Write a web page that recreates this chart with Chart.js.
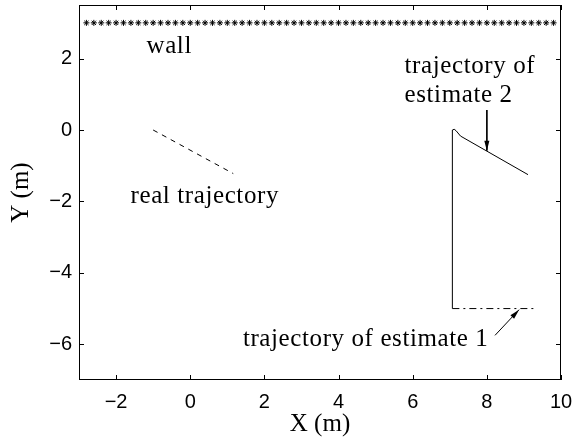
<!DOCTYPE html>
<html>
<head>
<meta charset="utf-8">
<script src="https://cdn.jsdelivr.net/npm/chart.js@4.4.1/dist/chart.umd.min.js"></script>
<style>
  html, body { margin: 0; padding: 0; background: #fff; }
  #wrap { width: 574px; height: 442px; }
</style>
</head>
<body>
<div id="wrap"><canvas id="trajChart" width="574" height="442"></canvas></div>
<script>
// axis ticks
const xTicks = [-2, 0, 2, 4, 6, 8, 10];
const yTicks = [-6, -4, -2, 0, 2];

// wall (asterisks at y = 3)
const wallX = [-2.8, -2.6, -2.4, -2.2, -2.0, -1.8, -1.6, -1.4, -1.2, -1.0, -0.8, -0.6, -0.4, -0.2,
  0.0, 0.2, 0.4, 0.6, 0.8, 1.0, 1.2, 1.4, 1.6, 1.8, 2.0, 2.2, 2.4, 2.6, 2.8, 3.0, 3.2, 3.4, 3.6,
  3.8, 4.0, 4.2, 4.4, 4.6, 4.8, 5.0, 5.2, 5.4, 5.6, 5.8, 6.0, 6.2, 6.4, 6.6, 6.8, 7.0, 7.2, 7.4,
  7.6, 7.8, 8.0, 8.2, 8.4, 8.6, 8.8, 9.0, 9.2, 9.4, 9.6, 9.8];
const wallY = 3;

// real trajectory (dashed)
const realX = [-1.0, 1.16];
const realY = [0.0, -1.22];

// estimate 2 (solid)
const est2X = [7.07, 7.07, 7.12, 7.17, 7.29, 9.11];
const est2Y = [-5.0, 0.0, 0.02, -0.02, -0.17, -1.25];

// estimate 1 (dash-dot)
const est1X = [7.07, 9.35];
const est1Y = [-5.0, -5.0];

// annotation arrows (tail -> head)
const arrow2X = [8.0, 8.0];
const arrow2Y = [0.56, -0.58];
const arrow1X = [8.22, 8.87];
const arrow1Y = [-5.75, -5.03];

// text labels
const labelText = ['wall', 'real trajectory', 'trajectory of', 'estimate 2', 'trajectory of estimate 1'];
const labelX = [-1.18, -1.61, 5.78, 5.78, 1.42];
const labelY = [2.15, -2.03, 1.61, 0.78, -6.06];

const pts = (xs, ys) => xs.map((x, i) => ({x: x, y: Array.isArray(ys) ? ys[i] : ys}));
const serif = "'Liberation Serif', 'Times New Roman', serif";
const sans = "'Liberation Sans', Arial, sans-serif";

const framePlugin = {
  id: 'frame',
  afterDatasetsDraw(chart) {
    const ctx = chart.ctx;
    const a = chart.chartArea;
    const xs = chart.scales.x, ys = chart.scales.y;
    ctx.save();
    ctx.strokeStyle = '#000';
    ctx.lineWidth = 1;
    ctx.strokeRect(Math.round(a.left) + 0.5, Math.round(a.top) + 0.5,
      Math.round(a.right - a.left) - 1, Math.round(a.bottom - a.top) - 1);
    const tl = 5;
    ctx.beginPath();
    xTicks.forEach(v => {
      const px = Math.round(xs.getPixelForValue(v)) + 0.5;
      ctx.moveTo(px, a.bottom); ctx.lineTo(px, a.bottom - tl);
      ctx.moveTo(px, a.top); ctx.lineTo(px, a.top + tl);
    });
    yTicks.forEach(v => {
      const py = Math.round(ys.getPixelForValue(v)) + 0.5;
      ctx.moveTo(a.left, py); ctx.lineTo(a.left + tl, py);
      ctx.moveTo(a.right, py); ctx.lineTo(a.right - tl, py);
    });
    ctx.stroke();

    // arrowheads
    [[arrow2X, arrow2Y], [arrow1X, arrow1Y]].forEach(([ax, ay]) => {
      const x0 = xs.getPixelForValue(ax[0]), y0 = ys.getPixelForValue(ay[0]);
      const x1 = xs.getPixelForValue(ax[1]), y1 = ys.getPixelForValue(ay[1]);
      const ang = Math.atan2(y1 - y0, x1 - x0);
      const L = 10, W = 2.5;
      ctx.beginPath();
      ctx.moveTo(x1, y1);
      ctx.lineTo(x1 - L * Math.cos(ang) + W * Math.sin(ang), y1 - L * Math.sin(ang) - W * Math.cos(ang));
      ctx.lineTo(x1 - L * Math.cos(ang) - W * Math.sin(ang), y1 - L * Math.sin(ang) + W * Math.cos(ang));
      ctx.closePath();
      ctx.fillStyle = '#000';
      ctx.fill();
    });

    // labels
    ctx.fillStyle = '#000';
    ctx.font = '25px ' + serif;
    ctx.textAlign = 'left';
    ctx.textBaseline = 'alphabetic';
    if ('letterSpacing' in ctx) ctx.letterSpacing = '0.6px';
    labelText.forEach((t, i) => {
      ctx.fillText(t, xs.getPixelForValue(labelX[i]), ys.getPixelForValue(labelY[i]));
    });
    ctx.restore();
  }
};

const lineDs = (data, dash) => ({
  data: data,
  showLine: true,
  borderColor: '#000',
  borderWidth: 1,
  borderDash: dash || [],
  pointRadius: 0,
  fill: false,
  tension: 0
});

new Chart('trajChart', {
  type: 'scatter',
  data: {
    datasets: [
      {
        data: pts(wallX, wallY),
        showLine: false,
        pointStyle: 'star',
        pointRadius: 3,
        borderColor: '#000',
        borderWidth: 1,
        backgroundColor: '#000'
      },
      lineDs(pts(realX, realY), [5, 5]),
      lineDs(pts(est2X, est2Y)),
      lineDs(pts(est1X, est1Y), [7, 4, 2, 4]),
      lineDs(pts(arrow2X, arrow2Y)),
      lineDs(pts(arrow1X, arrow1Y))
    ]
  },
  options: {
    responsive: false,
    animation: false,
    layout: { padding: { left: 0, right: 13, top: 1, bottom: 0 } },
    plugins: {
      legend: { display: false },
      tooltip: { enabled: false }
    },
    scales: {
      x: {
        type: 'linear',
        min: -3,
        max: 10,
        afterBuildTicks: s => { s.ticks = xTicks.map(v => ({value: v})); },
        afterFit: s => { s.height = 62; s.paddingLeft = 0; s.paddingRight = 0; },
        grid: { display: false, drawTicks: false },
        border: { display: false },
        ticks: {
          color: '#000',
          padding: 10,
          maxRotation: 0,
          font: { family: sans, size: 20 },
          callback: v => String(v).replace('-', '\u2212')
        },
        title: {
          display: true,
          text: 'X (m)',
          color: '#000',
          font: { family: serif, size: 25 },
          padding: { top: 0, bottom: 3 }
        }
      },
      y: {
        type: 'linear',
        min: -7,
        max: 3.5,
        afterBuildTicks: s => { s.ticks = yTicks.map(v => ({value: v})); },
        afterFit: s => { s.width = 79; s.paddingTop = 0; s.paddingBottom = 0; },
        grid: { display: false, drawTicks: false },
        border: { display: false },
        ticks: {
          color: '#000',
          padding: 7,
          font: { family: sans, size: 20 },
          callback: v => String(v).replace('-', '\u2212')
        },
        title: {
          display: true,
          text: 'Y (m)',
          color: '#000',
          font: { family: serif, size: 25 },
          padding: { top: 6, bottom: 0 }
        }
      }
    }
  },
  plugins: [framePlugin]
});
</script>
</body>
</html>
